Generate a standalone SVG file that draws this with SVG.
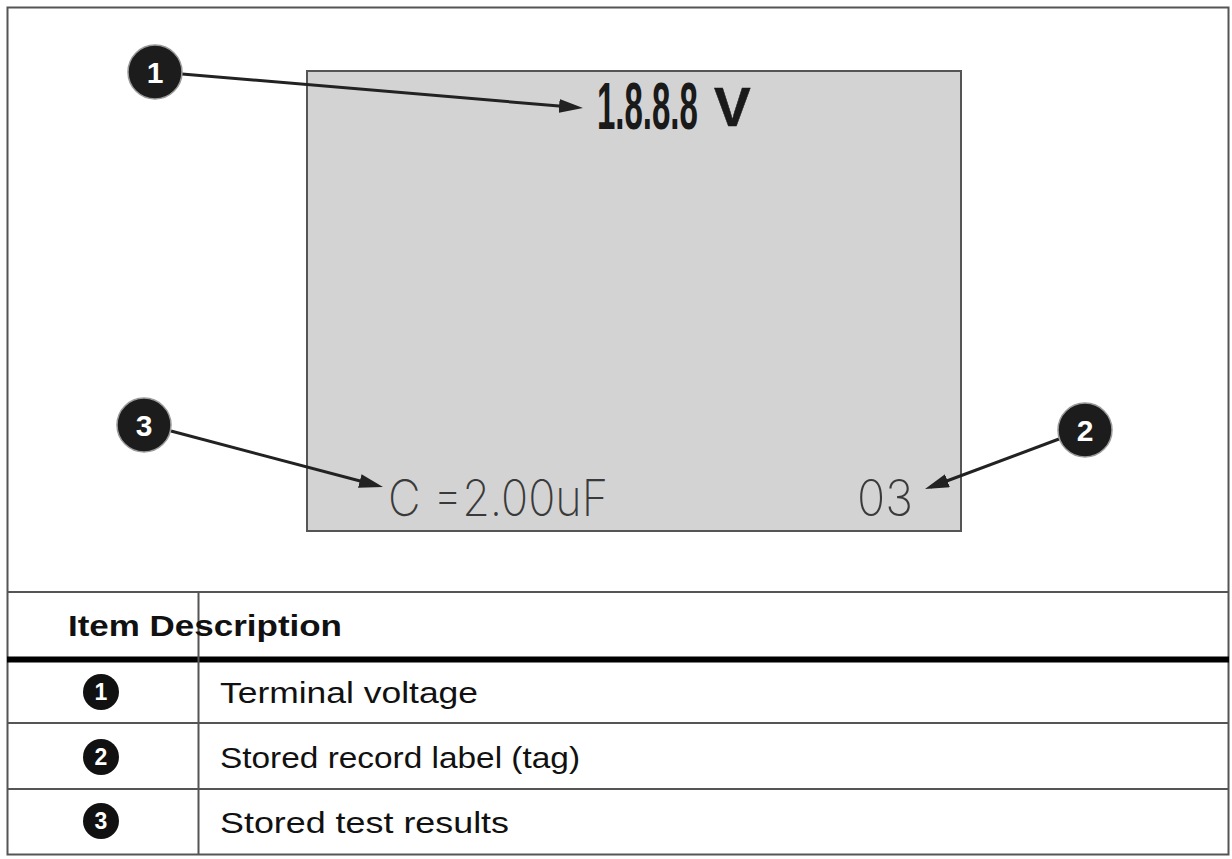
<svg xmlns="http://www.w3.org/2000/svg" width="1232" height="859" viewBox="0 0 1232 859">
<style>
.frame{fill:none;stroke:#555;stroke-width:2}
.rule{stroke:#555;stroke-width:2}
.lcd{fill:#d3d3d3;stroke:#555;stroke-width:2}
.callout{fill:#1c1c1c;stroke:#9a9a9a;stroke-width:1.5}
.callnum{font-family:"Liberation Sans",Arial,sans-serif;font-weight:bold;font-size:30px;fill:#fff;text-anchor:middle}
.badge{fill:#111}
.badgenum{font-family:"Liberation Sans",Arial,sans-serif;font-weight:bold;font-size:23px;fill:#fff;text-anchor:middle}
.conn{stroke:#222;stroke-width:3;fill:none;marker-end:url(#arrow)}
.hdr{font-family:"Liberation Sans",Arial,sans-serif;font-weight:bold;font-size:30px;fill:#111}
.cell{font-family:"Liberation Sans",Arial,sans-serif;font-size:29.5px;fill:#111}
.seg{font-family:"Liberation Sans",Arial,sans-serif;font-weight:bold;fill:#1a1a1a}
.segthin{font-family:Inter,"Liberation Sans",sans-serif;font-weight:200;font-size:50px;fill:#3a3a3a}
</style>
<defs>
<marker id="arrow" viewBox="0 0 24 14" refX="18" refY="7" markerWidth="24" markerHeight="14" markerUnits="userSpaceOnUse" orient="auto">
<path d="M0,0 L24,7 L0,14 Z" fill="#222"/>
</marker>
</defs>
<rect width="1232" height="859" fill="#fff"/>
<rect class="frame" x="7.5" y="7.5" width="1221" height="847"/>
<g id="lcd-display">
<rect class="lcd" x="307" y="71" width="654" height="460"/>
<text class="seg" transform="translate(597,129) scale(0.5,1)" x="0" y="0" font-size="66">1.8.8.8</text>
<text class="seg" x="714" y="126" font-size="55" font-weight="normal" stroke="#1a1a1a" stroke-width="0.5">V</text>
<text class="segthin" x="388" y="516" textLength="220" lengthAdjust="spacingAndGlyphs">C =2.00uF</text>
<text class="segthin" x="857" y="516" textLength="56" lengthAdjust="spacingAndGlyphs">03</text>
</g>
<g id="connectors">
<line class="conn" x1="182" y1="74" x2="577" y2="107.5"/>
<line class="conn" x1="171" y1="431" x2="377.2" y2="485.5"/>
<line class="conn" x1="1059" y1="439" x2="930.6" y2="487"/>
</g>
<g id="callout-1">
<circle class="callout" cx="155" cy="72" r="27"/>
<text class="callnum" x="155" y="83">1</text>
</g>
<g id="callout-2">
<circle class="callout" cx="1085" cy="430" r="27"/>
<text class="callnum" x="1085" y="441">2</text>
</g>
<g id="callout-3">
<circle class="callout" cx="144" cy="425" r="27"/>
<text class="callnum" x="144" y="436">3</text>
</g>
<g id="table">
<line class="rule" x1="7" y1="592" x2="1229" y2="592"/>
<line x1="7" y1="659.5" x2="1229" y2="659.5" stroke="#000" stroke-width="6"/>
<line class="rule" x1="7" y1="723" x2="1229" y2="723"/>
<line class="rule" x1="7" y1="789" x2="1229" y2="789"/>
<line class="rule" x1="198.5" y1="592" x2="198.5" y2="854"/>
<text class="hdr" x="68" y="636" textLength="274" lengthAdjust="spacingAndGlyphs">Item Description</text>
<g id="row-1">
<circle class="badge" cx="101" cy="692" r="18"/>
<text class="badgenum" x="101" y="700">1</text>
<text class="cell" x="220" y="703" textLength="258" lengthAdjust="spacingAndGlyphs">Terminal voltage</text>
</g>
<g id="row-2">
<circle class="badge" cx="101" cy="757" r="18"/>
<text class="badgenum" x="101" y="765">2</text>
<text class="cell" x="220" y="768" textLength="360" lengthAdjust="spacingAndGlyphs">Stored record label (tag)</text>
</g>
<g id="row-3">
<circle class="badge" cx="101" cy="821" r="18"/>
<text class="badgenum" x="101" y="829">3</text>
<text class="cell" x="220" y="833" textLength="289" lengthAdjust="spacingAndGlyphs">Stored test results</text>
</g>
</g>
</svg>
